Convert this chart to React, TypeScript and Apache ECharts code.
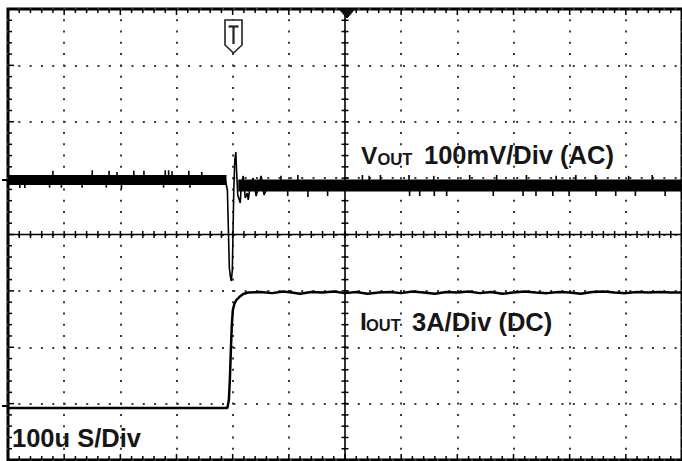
import React, { useEffect, useRef } from "react";
import * as echarts from "echarts";

// Time axis in microseconds (100 µs/div), vertical axis in screen divisions (8 div)
const X_MIN = -600;
const X_MAX = 600;
const Y_MIN = -4;
const Y_MAX = 4;

// VOUT (AC, 100 mV/div) – thick noise band before / after the load step
const voutBandBefore: number[][] = [[-600, 0.967], [-211, 0.967]];
const voutBandAfter: number[][] = [[-190, 0.869], [610, 0.869]];

// VOUT noise spikes: [time µs, band level, spike tip] (div)
const voutSpikes: number[][] = [
  [-579, 0.967, 0.825], [-570, 0.967, 0.825], [-526, 0.967, 0.83], [-520, 0.967, 1.13],
  [-505, 0.967, 0.83], [-468, 0.967, 0.83], [-450, 0.967, 1.14], [-425, 0.967, 0.83],
  [-420, 0.967, 1.13], [-406, 0.967, 1.11], [-398, 0.967, 0.81], [-376, 0.967, 1.13],
  [-358, 0.967, 1.13], [-323, 0.967, 0.83], [-320, 0.967, 1.14], [-314, 0.967, 1.14],
  [-308, 0.967, 1.12], [-278, 0.967, 1.13], [-276, 0.967, 0.83], [-255, 0.967, 1.11],
  [-114, 0.869, 1.04], [-102, 0.869, 0.68], [-84, 0.869, 1.055], [-66, 0.869, 0.665],
  [-31, 0.869, 0.683], [31, 0.869, 1.055], [43, 0.869, 1.04], [63, 0.869, 1.055],
  [114, 0.869, 1.055], [115, 0.869, 0.683], [133, 0.869, 0.683], [158, 0.869, 1.04],
  [159, 0.869, 0.683], [181, 0.869, 0.683], [222, 0.869, 1.055], [264, 0.869, 0.683],
  [270, 0.869, 1.055], [317, 0.869, 0.683], [323, 0.869, 1.055], [340, 0.869, 0.683],
  [370, 0.869, 0.683], [376, 0.869, 1.04], [399, 0.869, 0.683], [411, 0.869, 1.055],
  [446, 0.869, 1.055], [447, 0.869, 0.683], [482, 0.869, 0.683], [505, 0.869, 1.04],
  [517, 0.869, 0.683], [547, 0.869, 1.055], [570, 0.869, 0.683],
];

// VOUT thin trace through the load-step transient
const voutTransient: number[][] = [
  [-213, 0.967], [-209.4, 0.789], [-205.9, -0.594], [-204.2, -0.736], [-202.4, -0.825],
  [-200.6, -0.63], [-198, 0.789], [-196.2, 1.32], [-194.4, 1.463],
  [-192.7, 1.055], [-190.9, 0.7], [-188.2, 0.612], [-186.5, 0.559],
  [-184.7, 0.878], [-181.2, 1.038], [-177.6, 0.647], [-174, 0.736],
  [-172.3, 0.612], [-168.8, 0.86], [-163.5, 1.002], [-158.2, 0.683],
  [-149.3, 1.038], [-144, 0.7], [-137, 0.869],
];

// IOUT (DC, 3 A/div) – load step
const ioutTrace: number[][] = [
  [-600, -3.078], [-209.4, -3.078], [-206.8, -2.936], [-205, -2.58],
  [-203.2, -2.049], [-201.5, -1.605], [-199.7, -1.339], [-197, -1.233],
  [-193.5, -1.162], [-188.2, -1.109], [-181.2, -1.055], [-172.3, -1.029],
  [-150, -1.02], [-130, -1.04], [-110, -1.01], [-95, -1.03], [-80, -1.05],
  [-60, -1.02], [-40, -1.03], [-20, -1.01], [0, -1.04], [20, -1.02],
  [40, -1.05], [60, -1.03], [80, -1.02], [100, -1.04], [120, -1.01],
  [140, -1.03], [160, -1.05], [180, -1.02], [200, -1.03], [220, -1.01],
  [240, -1.04], [260, -1.02], [280, -1.05], [300, -1.03], [320, -1.01],
  [340, -1.03], [360, -1.04], [380, -1.02], [400, -1.03], [420, -1.05],
  [440, -1.02], [460, -1.01], [480, -1.03], [500, -1.04], [520, -1.02],
  [540, -1.03], [560, -1.02], [580, -1.03], [600, -1.03], [610, -1.03],
];

const voutLabel = ["V", "OUT", "100mV/Div (AC)"];
const ioutLabel = ["I", "OUT", "3A/Div (DC)"];
const timebaseLabel = "100u S/Div";

const FONT = '"Liberation Sans", Arial, sans-serif';
const INK = "#161616";

function renderGraticule(_params: any, api: any) {
  const children: any[] = [];
  const line = (x1: number, y1: number, x2: number, y2: number, w: number) =>
    children.push({
      type: "line",
      shape: { x1, y1, x2, y2 },
      style: { stroke: "#000", lineWidth: w },
    });
  const [cx, cy] = api.coord([0, 0]);
  const [lx, ty] = api.coord([X_MIN, Y_MAX]);
  const [rx, by] = api.coord([X_MAX, Y_MIN]);
  line(lx, cy, rx, cy, 1.6);
  line(cx, ty, cx, by, 1.6);
  for (let k = 0; k <= 60; k++) {
    const t = X_MIN + k * 20;
    const x = api.coord([t, 0])[0];
    const major = k % 5 === 0;
    line(x, cy - 3.5, x, cy + 3.5, 1.5);
    line(x, ty, x, ty + (major ? 6 : 4), 1.5);
    line(x, by, x, by - (major ? 6 : 4), 1.5);
  }
  for (let k = 0; k <= 40; k++) {
    const v = Y_MIN + k * 0.2;
    const y = api.coord([0, v])[1];
    const major = k % 5 === 0;
    line(cx - 3.5, y, cx + 3.5, y, 1.5);
    line(lx, y, lx + (major ? 6 : 4), y, 1.5);
  }
  return { type: "group", children };
}

function renderSpike(_params: any, api: any) {
  const p1 = api.coord([api.value(0), api.value(1)]);
  const p2 = api.coord([api.value(0), api.value(2)]);
  return {
    type: "line",
    shape: { x1: p1[0], y1: p1[1], x2: p2[0], y2: p2[1] },
    style: { stroke: "#000", lineWidth: 1.6 },
  };
}

function txt(text: string, x: number, y: number, size: number) {
  return {
    type: "text",
    z: 50,
    style: {
      text,
      x,
      y,
      fontSize: size,
      fontWeight: "bold",
      fontFamily: FONT,
      fill: INK,
      textVerticalAlign: "middle",
      verticalAlign: "middle",
    },
  };
}

export default function App() {
  const ref = useRef<HTMLDivElement>(null);
  useEffect(() => {
    if (!ref.current) return;
    const chart = echarts.init(ref.current, null, { renderer: "svg" });
    const lineBase = {
      type: "line",
      showSymbol: false,
      symbol: "none",
      silent: true,
      animation: false,
    };
    chart.setOption({
      animation: false,
      backgroundColor: "#fff",
      grid: {
        left: 8,
        right: -5,
        top: 9,
        bottom: 1,
        show: true,
        borderColor: "#000",
        borderWidth: 3,
        backgroundColor: "#fff",
      },
      xAxis: {
        type: "value",
        min: X_MIN,
        max: X_MAX,
        interval: 100,
        axisLine: { show: false },
        axisTick: { show: false },
        axisLabel: { show: false },
        splitLine: {
          show: true,
          lineStyle: { color: "#3a3a3a", width: 2, type: [2, 9.275], dashOffset: 1 },
        },
      },
      yAxis: {
        type: "value",
        min: Y_MIN,
        max: Y_MAX,
        interval: 1,
        axisLine: { show: false },
        axisTick: { show: false },
        axisLabel: { show: false },
        splitLine: {
          show: true,
          lineStyle: { color: "#3a3a3a", width: 2, type: [2, 9.316], dashOffset: 1 },
        },
      },
      series: [
        {
          type: "custom",
          name: "graticule",
          renderItem: renderGraticule,
          data: [[0, 0]],
          clip: false,
          silent: true,
          z: 1,
        },
        {
          ...lineBase,
          name: "VOUT band",
          data: voutBandBefore,
          lineStyle: { color: "#000", width: 10, cap: "butt" },
          z: 3,
        },
        {
          ...lineBase,
          name: "VOUT band after",
          data: voutBandAfter,
          lineStyle: { color: "#000", width: 12, cap: "butt" },
          z: 3,
        },
        {
          type: "custom",
          name: "VOUT noise",
          renderItem: renderSpike,
          data: voutSpikes,
          silent: true,
          z: 4,
        },
        {
          ...lineBase,
          name: "VOUT",
          data: voutTransient,
          lineStyle: { color: "#000", width: 1.6 },
          z: 4,
        },
        {
          ...lineBase,
          name: "IOUT",
          data: ioutTrace,
          lineStyle: { color: "#000", width: 2.5 },
          z: 4,
        },
      ],
      graphic: [
        // ground markers on the left edge
        { type: "line", z: 50, shape: { x1: 2, y1: 180, x2: 9, y2: 180 }, style: { stroke: "#000", lineWidth: 2 } },
        { type: "line", z: 50, shape: { x1: 2, y1: 406, x2: 9, y2: 406 }, style: { stroke: "#000", lineWidth: 2 } },
        // trigger position marker at top centre
        {
          type: "polygon",
          z: 50,
          shape: { points: [[339, 9], [355, 9], [347, 18]] },
          style: { fill: "#111", stroke: "#000", lineWidth: 1 },
        },
        // trigger "T" flag
        {
          type: "polygon",
          z: 50,
          shape: { points: [[225, 20], [242, 20], [242, 45], [233.5, 53], [225, 45]] },
          style: { fill: "#fff", stroke: "#222", lineWidth: 1.6 },
        },
        { type: "line", z: 51, shape: { x1: 228.5, y1: 26.5, x2: 238.5, y2: 26.5 }, style: { stroke: "#222", lineWidth: 2.2 } },
        { type: "line", z: 51, shape: { x1: 233.5, y1: 26.5, x2: 233.5, y2: 44 }, style: { stroke: "#222", lineWidth: 2.2 } },
        // channel labels
        txt(voutLabel[0], 361, 155, 24.5),
        txt(voutLabel[1], 377.5, 158.5, 16.5),
        txt(voutLabel[2], 424, 155, 25.5),
        txt(ioutLabel[0], 360, 321.5, 24.5),
        txt(ioutLabel[1], 366, 325, 16.5),
        txt(ioutLabel[2], 412, 321.5, 25.5),
        txt(timebaseLabel, 12, 438, 25.5),
      ],
    });
    return () => chart.dispose();
  }, []);
  return (
    <div
      ref={ref}
      style={{ position: "fixed", left: 0, top: 0, width: 682, height: 461, background: "#fff" }}
    />
  );
}
